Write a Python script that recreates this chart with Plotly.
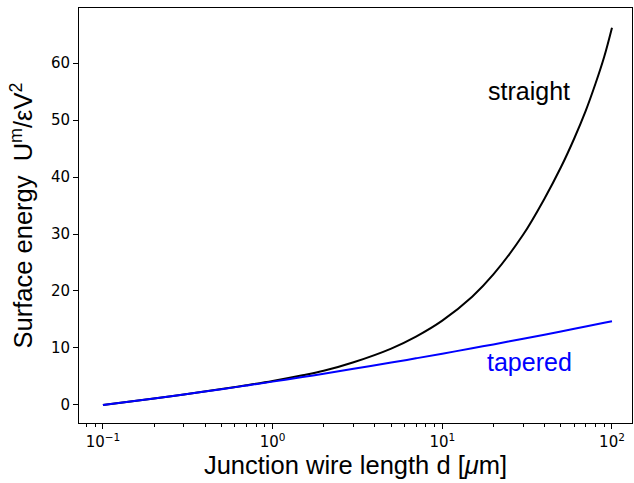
import plotly.graph_objects as go

d_vals = [0.1, 0.2, 0.3, 0.5, 0.7, 1, 1.5, 2, 3, 5, 7, 10, 15, 20, 30, 40, 50, 60, 70, 80, 90, 100]
straight = [0.0, 1.15, 1.86, 2.8, 3.45, 4.2, 5.2, 6.0, 7.5, 9.9, 12.0, 14.8, 19.0, 22.9, 29.9, 36.2, 41.7, 46.8, 51.6, 56.4, 61.1, 66.2]
tapered = [0.0, 1.15, 1.86, 2.78, 3.41, 4.1, 4.9, 5.49, 6.34, 7.44, 8.19, 9.0, 9.95, 10.63, 11.62, 12.34, 12.9, 13.37, 13.76, 14.11, 14.42, 14.7]

xtick_vals = [0.1, 1, 10, 100]
xtick_text = ["10<sup>\u22121</sup>", "10<sup>0</sup>", "10<sup>1</sup>", "10<sup>2</sup>"]
ytick_vals = [0, 10, 20, 30, 40, 50, 60]
minor_vals = [m * 10 ** e for e in (-2, -1, 0, 1, 2) for m in range(2, 10)]

fig = go.Figure()
fig.add_trace(go.Scatter(x=d_vals, y=straight, mode="lines",
                         line=dict(color="black", width=2, shape="spline", smoothing=1.0), name="straight"))
fig.add_trace(go.Scatter(x=d_vals, y=tapered, mode="lines",
                         line=dict(color="#0000ff", width=2, shape="spline", smoothing=1.0), name="tapered"))

fig.add_annotation(x=1.512, y=55.1, xref="x", yref="y", text="straight", showarrow=False,
                   font=dict(family="Liberation Sans, Arial", size=25, color="black"))
fig.add_annotation(x=1.512, y=7.5, xref="x", yref="y", text="tapered", showarrow=False,
                   font=dict(family="Liberation Sans, Arial", size=25, color="#0000ff"))

fig.update_layout(
    width=634, height=483,
    margin=dict(l=79, r=2, t=8, b=60),
    paper_bgcolor="white", plot_bgcolor="white",
    showlegend=False,
    font=dict(family="DejaVu Sans", color="black"),
)
fig.update_xaxes(
    type="log", range=[-1.141, 2.118],
    tickvals=xtick_vals, ticktext=xtick_text,
    ticks="outside", ticklen=5, tickwidth=1, tickcolor="black",
    tickfont=dict(size=15, family="DejaVu Sans"),
    minor=dict(tickvals=minor_vals, ticks="outside", ticklen=3, tickwidth=1, tickcolor="black", showgrid=False),
    showline=True, linecolor="black", linewidth=1, mirror=True,
    showgrid=False, zeroline=False,
    title=dict(text="Junction wire length d [<i>\u03bc</i>m]", font=dict(family="Liberation Sans, Arial", size=25.5), standoff=6),
)
fig.update_yaxes(
    range=[-3.16, 69.65],
    tickvals=ytick_vals,
    ticks="outside", ticklen=5, tickwidth=1, tickcolor="black",
    tickfont=dict(size=15, family="DejaVu Sans"),
    showline=True, linecolor="black", linewidth=1, mirror=True,
    showgrid=False, zeroline=False,
    title=dict(text="Surface energy  U<sup>m</sup>/\u03b5V<sup>2</sup>", font=dict(family="Liberation Sans, Arial", size=25.5), standoff=10),
)

fig.write_html("out.html")
